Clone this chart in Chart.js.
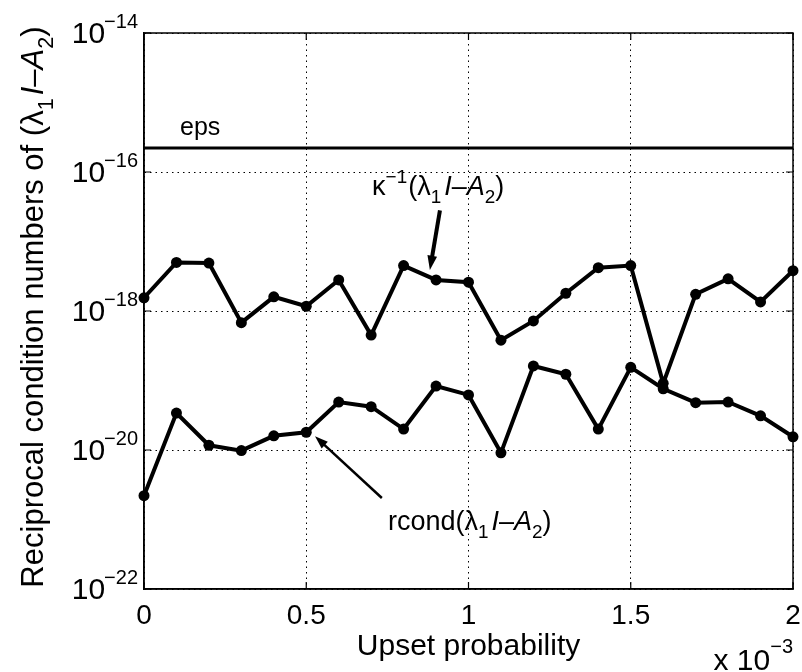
<!DOCTYPE html>
<html>
<head>
<meta charset="utf-8">
<script src="https://cdn.jsdelivr.net/npm/chart.js@4.4.1/dist/chart.umd.min.js"></script>
<style>
  html, body { margin: 0; padding: 0; background: #fff; }
  #wrap { width: 802px; height: 672px; }
</style>
</head>
<body>
<div id="wrap"><canvas id="chart"></canvas></div>
<script>
// x values are upset probability in units of 1e-3
const upsetProb = [0, 0.1, 0.2, 0.3, 0.4, 0.5, 0.6, 0.7, 0.8, 0.9, 1.0,
                   1.1, 1.2, 1.3, 1.4, 1.5, 1.6, 1.7, 1.8, 1.9, 2.0];

// kappa^-1(lambda_1 I - A_2)
const invKappa = [1.55e-18, 5.0e-18, 4.9e-18, 6.8e-19, 1.6e-18, 1.17e-18, 2.8e-18,
                  4.5e-19, 4.5e-18, 2.8e-18, 2.6e-18, 3.8e-19, 7.2e-19, 1.8e-18,
                  4.2e-18, 4.5e-18, 9.1e-20, 1.74e-18, 2.9e-18, 1.35e-18, 3.8e-18];

// rcond(lambda_1 I - A_2)
const rcondVals = [2.2e-21, 3.4e-20, 1.17e-20, 9.8e-21, 1.6e-20, 1.8e-20, 4.9e-20,
                   4.2e-20, 2.0e-20, 8.3e-20, 6.2e-20, 9.1e-21, 1.62e-19, 1.23e-19,
                   2.0e-20, 1.55e-19, 7.6e-20, 4.8e-20, 4.9e-20, 3.1e-20, 1.55e-20];

const epsValue = 2.22e-16;

const xTicks = [0, 0.5, 1, 1.5, 2];
const xTickLabels = ['0', '0.5', '1', '1.5', '2'];
const yTicks = [1e-22, 1e-20, 1e-18, 1e-16, 1e-14];
const yTickSup = ['\u221222', '\u221220', '\u221218', '\u221216', '\u221214'];

const FONT = '"Liberation Sans", Arial, Helvetica, sans-serif';

function font(size, italic) {
    return (italic ? 'italic ' : '') + size + 'px ' + FONT;
}

// draws a run of text pieces, some of them sub/superscript
function richText(ctx, x, y, parts, size, align) {
    let w = 0;
    parts.forEach(p => {
        ctx.font = font(p.sub || p.sup ? size * 0.7 : size, p.it);
        p.w = ctx.measureText(p.t).width + (p.gap || 0);
        w += p.w;
    });
    let cx = align === 'center' ? x - w / 2 : align === 'right' ? x - w : x;
    ctx.textAlign = 'left';
    ctx.textBaseline = 'alphabetic';
    parts.forEach(p => {
        ctx.font = font(p.sub || p.sup ? size * 0.7 : size, p.it);
        const dy = p.sub ? size * 0.32 : p.sup ? -size * 0.42 : 0;
        ctx.fillText(p.t, cx, y + dy);
        cx += p.w;
    });
}

function lambdaParts() {
    return [{t: '('}, {t: '\u03bb'}, {t: '1', sub: true, gap: 3}, {t: 'I', it: true},
            {t: '\u2013'}, {t: 'A', it: true}, {t: '2', sub: true}, {t: ')'}];
}

function arrow(ctx, x1, y1, x2, y2, lw, head) {
    const a = Math.atan2(y2 - y1, x2 - x1);
    ctx.lineWidth = lw;
    ctx.beginPath();
    ctx.moveTo(x1, y1);
    ctx.lineTo(x2 - Math.cos(a) * head * 0.8, y2 - Math.sin(a) * head * 0.8);
    ctx.stroke();
    ctx.beginPath();
    ctx.moveTo(x2, y2);
    ctx.lineTo(x2 - head * Math.cos(a - 0.33), y2 - head * Math.sin(a - 0.33));
    ctx.lineTo(x2 - head * Math.cos(a + 0.33), y2 - head * Math.sin(a + 0.33));
    ctx.closePath();
    ctx.fill();
}

// frame, inward ticks, tick labels, titles and the text notes
const decorPlugin = {
    id: 'decor',
    afterDraw(chart) {
        const {ctx, chartArea: ca, scales: {x, y}} = chart;
        ctx.save();
        ctx.fillStyle = '#000';
        ctx.strokeStyle = '#000';

        // box
        ctx.lineWidth = 1.5;
        ctx.strokeRect(ca.left, ca.top, ca.right - ca.left, ca.bottom - ca.top);

        // inward ticks
        ctx.lineWidth = 1.2;
        ctx.beginPath();
        xTicks.forEach(v => {
            const px = x.getPixelForValue(v);
            ctx.moveTo(px, ca.bottom); ctx.lineTo(px, ca.bottom - 7);
            ctx.moveTo(px, ca.top); ctx.lineTo(px, ca.top + 7);
        });
        yTicks.forEach(v => {
            const py = y.getPixelForValue(v);
            ctx.moveTo(ca.left, py); ctx.lineTo(ca.left + 7, py);
            ctx.moveTo(ca.right, py); ctx.lineTo(ca.right - 7, py);
        });
        ctx.stroke();

        // x tick labels
        ctx.font = font(28);
        ctx.textAlign = 'center';
        ctx.textBaseline = 'alphabetic';
        xTicks.forEach((v, i) => {
            ctx.fillText(xTickLabels[i], x.getPixelForValue(v), ca.bottom + 35);
        });

        // y tick labels: 10 with superscript exponent
        yTicks.forEach((v, i) => {
            const py = y.getPixelForValue(v);
            const right = ca.left - 6;
            ctx.textAlign = 'right';
            ctx.font = font(20);
            ctx.fillText(yTickSup[i], right, py - 5);
            const sw = ctx.measureText(yTickSup[i]).width;
            ctx.font = font(30);
            ctx.fillText('10', right - sw + 1, py + 10);
        });

        // x axis title and multiplier
        ctx.font = font(30);
        ctx.textAlign = 'center';
        ctx.fillText('Upset probability', (ca.left + ca.right) / 2, ca.bottom + 66);
        ctx.textAlign = 'right';
        ctx.font = font(20);
        ctx.fillText('\u22123', ca.right, ca.bottom + 64);
        const mw = ctx.measureText('\u22123').width;
        ctx.font = font(30);
        ctx.fillText('x 10', ca.right - mw, ca.bottom + 81);

        // y axis title
        ctx.save();
        ctx.translate(43, (ca.top + ca.bottom) / 2 - 4);
        ctx.rotate(-Math.PI / 2);
        richText(ctx, 0, 0, [{t: 'Reciprocal condition numbers of '}].concat(lambdaParts()), 31, 'center');
        ctx.restore();

        // notes, placed in data units
        ctx.textAlign = 'left';
        ctx.font = font(25);
        ctx.fillText('eps', x.getPixelForValue(0.111), y.getPixelForValue(3.4e-16));

        richText(ctx, x.getPixelForValue(0.703), y.getPixelForValue(4.7e-17),
            [{t: '\u03ba'}, {t: '\u22121', sup: true, gap: 1}].concat(lambdaParts()), 27, 'left');
        ctx.strokeStyle = '#000';
        arrow(ctx, x.getPixelForValue(0.912), y.getPixelForValue(2.8e-17),
                   x.getPixelForValue(0.881), y.getPixelForValue(3.9e-18), 4, 15);

        richText(ctx, x.getPixelForValue(0.752), y.getPixelForValue(7.1e-22),
            [{t: 'rcond'}].concat(lambdaParts()), 27, 'left');
        arrow(ctx, x.getPixelForValue(0.733), y.getPixelForValue(2.04e-21),
                   x.getPixelForValue(0.527), y.getPixelForValue(1.58e-20), 2.5, 14);

        ctx.restore();
    }
};

const lineStyle = {
    borderColor: '#000',
    backgroundColor: '#000',
    borderWidth: 4,
    pointRadius: 5.5,
    pointBackgroundColor: '#000',
    pointBorderWidth: 0,
    tension: 0,
    fill: false,
    clip: false
};

new Chart(document.getElementById('chart'), {
    type: 'line',
    data: {
        datasets: [{
            label: 'eps',
            data: [{x: upsetProb[0], y: epsValue}, {x: upsetProb[upsetProb.length - 1], y: epsValue}],
            borderColor: '#000',
            borderWidth: 3,
            pointRadius: 0,
            fill: false,
            clip: false
        }, Object.assign({
            label: 'kappa^-1',
            data: upsetProb.map((p, i) => ({x: p, y: invKappa[i]}))
        }, lineStyle), Object.assign({
            label: 'rcond',
            data: upsetProb.map((p, i) => ({x: p, y: rcondVals[i]}))
        }, lineStyle)]
    },
    plugins: [decorPlugin],
    options: {
        responsive: true,
        maintainAspectRatio: false,
        animation: false,
        layout: { padding: { top: 33, right: 9, left: 0, bottom: 0 } },
        plugins: { legend: { display: false }, tooltip: { enabled: false } },
        scales: {
            x: {
                type: 'linear',
                min: 0,
                max: 2,
                afterBuildTicks: s => { s.ticks = xTicks.map(v => ({value: v})); },
                afterFit: s => { s.height = 83; },
                ticks: { display: false },
                grid: { color: '#000', lineWidth: 1, drawTicks: false },
                border: { display: true, color: '#000', width: 1.5, dash: [1.5, 4] }
            },
            y: {
                type: 'logarithmic',
                min: 1e-22,
                max: 1e-14,
                afterBuildTicks: s => { s.ticks = yTicks.map(v => ({value: v})); },
                afterFit: s => { s.width = 144; },
                ticks: { display: false },
                grid: { color: '#000', lineWidth: 1, drawTicks: false },
                border: { display: true, color: '#000', width: 1.5, dash: [1.5, 4] }
            }
        }
    }
});
</script>
</body>
</html>
